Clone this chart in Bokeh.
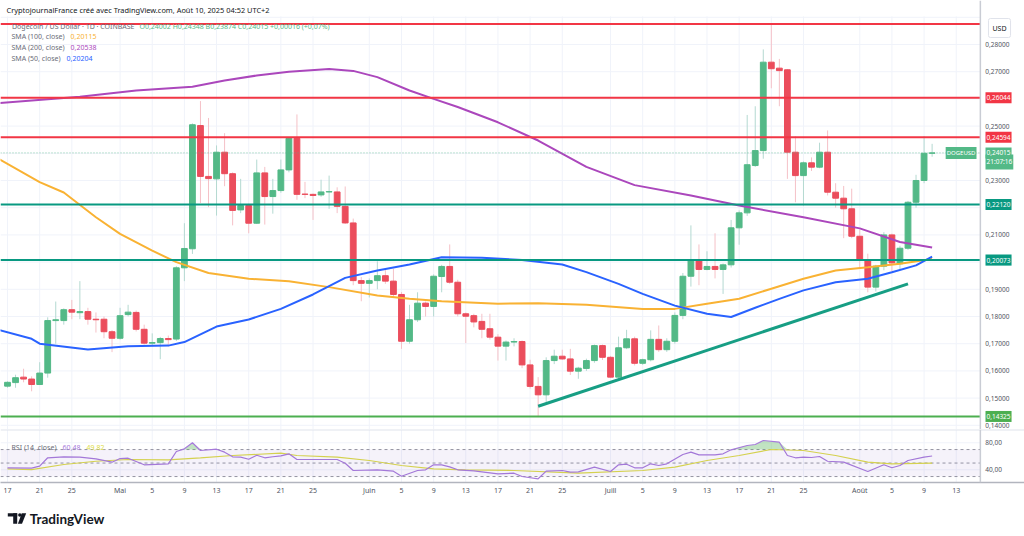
import pandas as pd
from bokeh.plotting import figure
from bokeh.layouts import column
from bokeh.models import (Range1d, FixedTicker, CustomJSTickFormatter, Span, Label,
                          BoxAnnotation, ColumnDataSource)
from bokeh.embed import file_html
from bokeh.resources import INLINE
from bokeh.core.properties import value

# ---------------- data ----------------
dates = pd.date_range("2025-04-17", "2025-08-10", freq="D")
opens = [0.1544, 0.1557, 0.1577, 0.1570, 0.1550, 0.1592, 0.1785, 0.1785, 0.1825, 0.1814, 0.1818, 0.1790, 0.1790, 0.1744,
         0.1720, 0.1807, 0.1815, 0.1753, 0.1702, 0.1704, 0.1719, 0.1717, 0.1979, 0.2049, 0.2502, 0.2315, 0.2306, 0.2404,
         0.2325, 0.2192, 0.2208, 0.2143, 0.2328, 0.2241, 0.2263, 0.2339, 0.2455, 0.2250, 0.2249, 0.2247, 0.2258, 0.2258,
         0.2205, 0.2144, 0.1932,
         0.1922, 0.1932, 0.1950, 0.1930, 0.1881, 0.1709, 0.1788, 0.1849, 0.1837, 0.1947, 0.1984, 0.1926, 0.1810, 0.1803,
         0.1782, 0.1755, 0.1724, 0.1691, 0.1706, 0.1708, 0.1622, 0.1543, 0.1512, 0.1638, 0.1654, 0.1644, 0.1599, 0.1609,
         0.1638, 0.1693,
         0.1650, 0.1577, 0.1685, 0.1718, 0.1628, 0.1641, 0.1716, 0.1678, 0.1709, 0.1804, 0.1948, 0.2009, 0.1973, 0.1984,
         0.1973, 0.1990, 0.2126, 0.2181, 0.2355, 0.2410, 0.2735, 0.2713, 0.2707, 0.2404, 0.2318, 0.2365, 0.2349, 0.2404,
         0.2257, 0.2235, 0.2196,
         0.2095, 0.2006, 0.1908, 0.1985, 0.2100, 0.1994, 0.2051, 0.2220, 0.2300, 0.24002]
highs = [0.1562, 0.1586, 0.1608, 0.1580, 0.1632, 0.1797, 0.1855, 0.1830, 0.1861, 0.1930, 0.1832, 0.1815, 0.1800, 0.1750,
         0.1832, 0.1843, 0.1822, 0.1770, 0.1738, 0.1725, 0.1730, 0.1985, 0.2143, 0.2510, 0.2592, 0.2530, 0.2429, 0.2474,
         0.2330, 0.2306, 0.2215, 0.2377, 0.2350, 0.2306, 0.2377, 0.2458, 0.2543, 0.2295, 0.2252, 0.2303, 0.2318, 0.2275,
         0.2278, 0.2160, 0.1945,
         0.1940, 0.2003, 0.1975, 0.1975, 0.1890, 0.1843, 0.1889, 0.1855, 0.1955, 0.1990, 0.2065, 0.1935, 0.1815, 0.1810,
         0.1810, 0.1810, 0.1735, 0.1712, 0.1720, 0.1712, 0.1641, 0.1577, 0.1650, 0.1678, 0.1678, 0.1681, 0.1615, 0.1645,
         0.1697, 0.1697,
         0.1655, 0.1726, 0.1751, 0.1726, 0.1645, 0.1749, 0.1767, 0.1720, 0.1815, 0.1960, 0.2135, 0.2065, 0.2040, 0.2106,
         0.1995, 0.2155, 0.2190, 0.2541, 0.2573, 0.2782, 0.2872, 0.2747, 0.2710, 0.2463, 0.2370, 0.2385, 0.2439, 0.2484,
         0.2290, 0.2280, 0.2270,
         0.2120, 0.2031, 0.1990, 0.2110, 0.2105, 0.2060, 0.2225, 0.2321, 0.2463, 0.24348]
lows = [0.1538, 0.1538, 0.1558, 0.1525, 0.1548, 0.1575, 0.1700, 0.1770, 0.1790, 0.1790, 0.1770, 0.1741, 0.1720, 0.1669,
        0.1715, 0.1800, 0.1745, 0.1697, 0.1693, 0.1643, 0.1690, 0.1710, 0.1930, 0.2030, 0.2217, 0.2202, 0.2171, 0.2279,
        0.2135, 0.2180, 0.2106, 0.2140, 0.2138, 0.2178, 0.2255, 0.2330, 0.2229, 0.2235, 0.2155, 0.2240, 0.2196, 0.2180,
        0.2140, 0.1915, 0.1856,
        0.1870, 0.1900, 0.1920, 0.1870, 0.1681, 0.1700, 0.1780, 0.1800, 0.1800, 0.1889, 0.1920, 0.1800, 0.1702, 0.1760,
        0.1720, 0.1715, 0.1638, 0.1638, 0.1690, 0.1610, 0.1535, 0.1430, 0.1485, 0.1625, 0.1640, 0.1585, 0.1571, 0.1600,
        0.1630, 0.1640,
        0.1575, 0.1570, 0.1680, 0.1620, 0.1622, 0.1635, 0.1670, 0.1670, 0.1700, 0.1790, 0.1910, 0.1915, 0.1970, 0.1940,
        0.1883, 0.1980, 0.2064, 0.2170, 0.2350, 0.2380, 0.2639, 0.2573, 0.2306, 0.2220, 0.2208, 0.2335, 0.2345, 0.2245,
        0.2200, 0.2088, 0.2088,
        0.1975, 0.1889, 0.1892, 0.1970, 0.1963, 0.1970, 0.2045, 0.2200, 0.2290, 0.23874]
closes = [0.1558, 0.1575, 0.1570, 0.1550, 0.1592, 0.1785, 0.1788, 0.1825, 0.1816, 0.1818, 0.1790, 0.1788, 0.1744, 0.1720,
          0.1803, 0.1816, 0.1753, 0.1702, 0.1704, 0.1719, 0.1715, 0.1979, 0.2050, 0.2505, 0.2315, 0.2307, 0.2404, 0.2325,
          0.2190, 0.2208, 0.2143, 0.2328, 0.2241, 0.2263, 0.2339, 0.2455, 0.2249, 0.2249, 0.2245, 0.2258, 0.2259, 0.2205,
          0.2144, 0.1932, 0.1922,
          0.1932, 0.1950, 0.1930, 0.1881, 0.1709, 0.1788, 0.1849, 0.1837, 0.1948, 0.1984, 0.1926, 0.1810, 0.1801, 0.1780,
          0.1753, 0.1724, 0.1691, 0.1706, 0.1708, 0.1622, 0.1543, 0.1512, 0.1638, 0.1654, 0.1644, 0.1599, 0.1610, 0.1638,
          0.1693, 0.1650,
          0.1577, 0.1685, 0.1718, 0.1628, 0.1641, 0.1716, 0.1678, 0.1709, 0.1804, 0.1948, 0.2009, 0.1973, 0.1984, 0.1973,
          0.1990, 0.2126, 0.2181, 0.2358, 0.2410, 0.2735, 0.2711, 0.2704, 0.2404, 0.2318, 0.2365, 0.2349, 0.2404, 0.2257,
          0.2235, 0.2196, 0.2095,
          0.2006, 0.1908, 0.1985, 0.2100, 0.1997, 0.2051, 0.2220, 0.2300, 0.2400, 0.24015]

sma200_dates = ["2025-04-16", "2025-04-26", "2025-05-03", "2025-05-10", "2025-05-14", "2025-05-18", "2025-05-22",
                "2025-05-27", "2025-05-30", "2025-06-02", "2025-06-06", "2025-06-09", "2025-06-12", "2025-06-17",
                "2025-06-22", "2025-06-28", "2025-07-04", "2025-07-11", "2025-07-17", "2025-07-25", "2025-08-01",
                "2025-08-06", "2025-08-10"]
sma200_vals = [0.2585, 0.2608, 0.2631, 0.2645, 0.2668, 0.2686, 0.2700, 0.2710, 0.2703, 0.2680, 0.2631, 0.2600,
               0.2570, 0.2514, 0.2447, 0.2350, 0.2283, 0.2245, 0.2208, 0.2165, 0.2124, 0.2074, 0.20538]

sma100_dates = ["2025-04-16", "2025-04-21", "2025-04-24", "2025-04-28", "2025-05-01", "2025-05-05", "2025-05-08",
                "2025-05-12", "2025-05-17", "2025-05-22", "2025-05-27", "2025-06-02", "2025-06-06", "2025-06-10",
                "2025-06-17", "2025-06-22", "2025-06-28", "2025-07-05", "2025-07-09", "2025-07-13", "2025-07-17",
                "2025-07-21", "2025-07-25", "2025-07-29", "2025-08-02", "2025-08-06", "2025-08-10"]
sma100_vals = [0.2378, 0.2294, 0.2256, 0.2165, 0.2104, 0.2042, 0.2000, 0.1960, 0.1939, 0.1930, 0.1908, 0.1877,
               0.1865, 0.1856, 0.1847, 0.1849, 0.1843, 0.1828, 0.1828, 0.1847, 0.1865, 0.1902, 0.1939, 0.1969,
               0.1981, 0.1994, 0.20115]

sma50_dates = ["2025-04-16", "2025-04-20", "2025-04-21", "2025-04-27", "2025-05-02", "2025-05-07", "2025-05-09",
               "2025-05-13", "2025-05-17", "2025-05-21", "2025-05-25", "2025-05-29", "2025-06-02", "2025-06-06",
               "2025-06-10", "2025-06-15", "2025-06-20", "2025-06-25", "2025-06-28", "2025-07-02", "2025-07-05",
               "2025-07-09", "2025-07-13", "2025-07-16", "2025-07-19", "2025-07-22", "2025-07-25", "2025-07-29",
               "2025-08-02", "2025-08-05", "2025-08-08", "2025-08-10"]
sma50_vals = [0.1750, 0.1718, 0.1700, 0.1679, 0.1691, 0.1693, 0.1706, 0.1763, 0.1789, 0.1828, 0.1881, 0.1942,
              0.1969, 0.1991, 0.2018, 0.2016, 0.2008, 0.1991, 0.1963, 0.1920, 0.1883, 0.1840, 0.1810, 0.1798,
              0.1832, 0.1865, 0.1896, 0.1926, 0.1939, 0.1963, 0.1988, 0.20204]

trend_dates = ["2025-06-22", "2025-08-07"]
trend_vals = [0.1470, 0.1920]

level_prices = [0.2875, 0.26044, 0.24594, 0.22120, 0.20073, 0.14325]
level_colors = ["#f23645", "#f23645", "#f23645", "#089981", "#089981", "#4caf50"]
tag_prices = [0.26044, 0.24594, 0.22120, 0.20073, 0.14325]
tag_colors = ["#f23645", "#f23645", "#089981", "#089981", "#4caf50"]
last_price = 0.24015
last_time = "21:07:16"

price_ticks = [0.14, 0.15, 0.16, 0.17, 0.18, 0.19, 0.21, 0.23, 0.25, 0.27, 0.28]
grid_prices = [0.14, 0.15, 0.16, 0.17, 0.18, 0.19, 0.20, 0.21, 0.22, 0.23, 0.24, 0.25, 0.26, 0.27, 0.28, 0.29]

date_ticks = ["2025-04-17", "2025-04-21", "2025-04-25", "2025-05-01", "2025-05-05", "2025-05-09", "2025-05-13",
              "2025-05-17", "2025-05-21", "2025-05-25", "2025-06-01", "2025-06-05", "2025-06-09", "2025-06-13",
              "2025-06-17", "2025-06-21", "2025-06-25", "2025-07-01", "2025-07-05", "2025-07-09", "2025-07-13",
              "2025-07-17", "2025-07-21", "2025-07-25", "2025-08-01", "2025-08-05", "2025-08-09", "2025-08-13"]
date_labels = ["17", "21", "25", "Mai", "5", "9", "13", "17", "21", "25", "Juin", "5", "9", "13", "17", "21", "25",
               "Juill", "5", "9", "13", "17", "21", "25", "Août", "5", "9", "13"]

rsi_dates = ["2025-04-17", "2025-04-20", "2025-04-21", "2025-04-22", "2025-04-24", "2025-04-26", "2025-04-28",
             "2025-04-30", "2025-05-01", "2025-05-02", "2025-05-04", "2025-05-07", "2025-05-08", "2025-05-09",
             "2025-05-10", "2025-05-11", "2025-05-13", "2025-05-14", "2025-05-15", "2025-05-16", "2025-05-17",
             "2025-05-18", "2025-05-19", "2025-05-20", "2025-05-21", "2025-05-22", "2025-05-23", "2025-05-28",
             "2025-05-29", "2025-05-30", "2025-06-02", "2025-06-04", "2025-06-05", "2025-06-07", "2025-06-08",
             "2025-06-09", "2025-06-10", "2025-06-11", "2025-06-12", "2025-06-14", "2025-06-17", "2025-06-19",
             "2025-06-20", "2025-06-22", "2025-06-23", "2025-06-25", "2025-06-26", "2025-06-27", "2025-06-29",
             "2025-07-01", "2025-07-02", "2025-07-03", "2025-07-04", "2025-07-05", "2025-07-06", "2025-07-07",
             "2025-07-08", "2025-07-10", "2025-07-11", "2025-07-12", "2025-07-14", "2025-07-15", "2025-07-16",
             "2025-07-18", "2025-07-19", "2025-07-20", "2025-07-22", "2025-07-23", "2025-07-24", "2025-07-25",
             "2025-07-26", "2025-07-27", "2025-07-28", "2025-07-30", "2025-08-02", "2025-08-04", "2025-08-05",
             "2025-08-06", "2025-08-07", "2025-08-09", "2025-08-10"]
rsi_vals = [43.0, 42.4, 45.4, 57.8, 59.3, 58.7, 56.3, 51.3, 56.7, 57.2, 47.4, 48.9, 67.1, 71.1, 80.0, 68.6, 70.5,
            66.1, 59.3, 58.7, 55.7, 61.6, 57.8, 59.3, 60.7, 63.7, 55.3, 55.3, 49.8, 39.0, 40.0, 38.0, 30.5, 39.0,
            40.0, 47.4, 47.4, 44.4, 40.0, 38.5, 34.0, 35.0, 30.1, 26.7, 38.0, 39.0, 36.5, 37.0, 43.9, 37.5, 47.4,
            48.3, 43.0, 43.0, 48.9, 46.4, 48.9, 62.7, 66.1, 62.2, 62.2, 63.7, 69.6, 76.0, 77.5, 83.4, 80.9, 61.2,
            57.8, 58.7, 58.2, 59.7, 52.7, 51.3, 37.5, 47.4, 43.0, 46.4, 53.8, 58.7, 60.48]
rsima_dates = ["2025-04-17", "2025-04-20", "2025-04-24", "2025-04-28", "2025-05-02", "2025-05-07", "2025-05-11",
               "2025-05-15", "2025-05-21", "2025-05-23", "2025-05-28", "2025-06-01", "2025-06-05", "2025-06-09",
               "2025-06-13", "2025-06-19", "2025-06-27", "2025-07-05", "2025-07-09", "2025-07-13", "2025-07-17",
               "2025-07-21", "2025-07-25", "2025-07-29", "2025-08-02", "2025-08-05", "2025-08-10"]
rsima_vals = [41.5, 40.4, 47.9, 52.7, 55.3, 54.8, 57.8, 61.2, 64.6, 61.2, 58.7, 53.8, 46.4, 41.5, 40.0, 39.0, 35.0,
              39.0, 43.9, 53.8, 61.2, 70.1, 68.6, 61.2, 51.3, 48.9, 49.82]
rsi_levels = [70, 50, 30]
rsi_ticks = [80, 40]

# ---------------- styles ----------------
FONT = "Noto Sans"
UP, DOWN = "#53b987", "#eb4d5c"
UP_W, DOWN_W = "#b4d9d1", "#f5c1c7"
GRID = "#f0f3fa"
AXIS = "#c9ccd4"
TXT = "#50535e"
GRAY = "#6a6d78"
RSI_C, RSIMA_C = "#a77bdb", "#dcdc46"

W = 1024
day_ms = 86400000
x0 = pd.Timestamp("2025-04-17") - pd.Timedelta(days=0.871)
x1 = pd.Timestamp("2025-04-17") + pd.Timedelta(days=126.49)
axis_edge = pd.Timestamp("2025-08-16")          # left edge of the price scale column
x_range = Range1d(start=x0, end=x1)
tick_ms = [int(pd.Timestamp(d).value // 10**6) for d in date_ticks]
tick_dt = pd.to_datetime(date_ticks)

# ---------------- main pane ----------------
Y0, Y1 = 0.138456, 0.296176
p = figure(width=W, height=429, x_range=x_range, y_range=Range1d(Y0, Y1),
           x_axis_type="datetime", x_axis_location=None, y_axis_location=None,
           output_backend="svg", toolbar_location=None, min_border=0)
p.outline_line_color = None
p.grid.visible = False

# grid
p.segment(x0=tick_dt, x1=tick_dt, y0=[Y0] * len(tick_dt), y1=[0.2903] * len(tick_dt),
          line_color=GRID, line_width=1)
p.segment(x0=[x0] * len(grid_prices), x1=[axis_edge] * len(grid_prices), y0=grid_prices, y1=grid_prices,
          line_color=GRID, line_width=1)

src = ColumnDataSource(dict(
    date=dates, open=opens, high=highs, low=lows, close=closes,
    color=[UP if c >= o else DOWN for o, c in zip(opens, closes)],
    wick=[UP_W if c >= o else DOWN_W for o, c in zip(opens, closes)],
))
p.segment(x0="date", y0="low", x1="date", y1="high", line_color="wick", line_width=1, source=src)
p.vbar(x="date", width=0.72 * day_ms, top="open", bottom="close", fill_color="color",
       line_color="color", line_width=1, source=src)

p.line(pd.to_datetime(sma200_dates), sma200_vals, line_color="#ab47bc", line_width=2)
p.line(pd.to_datetime(sma100_dates), sma100_vals, line_color="#f9b233", line_width=2)
p.line(pd.to_datetime(sma50_dates), sma50_vals, line_color="#2962ff", line_width=2)
p.line(pd.to_datetime(trend_dates), trend_vals, line_color="#179e84", line_width=3)

p.segment(x0=[x0], x1=[axis_edge], y0=[last_price], y1=[last_price], line_color=UP, line_alpha=0.7,
          line_dash="1 2", line_width=1)
p.segment(x0=[x0] * len(level_prices), x1=[axis_edge] * len(level_prices), y0=level_prices, y1=level_prices,
          line_color=level_colors, line_width=2)

# price scale column
p.add_layout(Span(location=axis_edge, dimension="height", line_color=AXIS, line_width=1.5))
p.text(x=[axis_edge] * len(price_ticks), y=price_ticks,
       text=[f"{v:.5f}".replace(".", ",") for v in price_ticks],
       x_offset=5, text_font=value(FONT), text_font_size="6.5px", text_color=TXT,
       text_align="left", text_baseline="middle")
for tp, tc in zip(tag_prices, tag_colors):
    p.add_layout(Label(x=985, y=tp, x_units="screen", y_units="data", text=f"{tp:.5f}".replace(".", ","),
                       text_font=FONT, text_font_size="6.5px", text_color="white",
                       text_align="left", text_baseline="middle",
                       background_fill_color=tc, padding=(1, 3)))
p.add_layout(Label(x=985, y=last_price, y_offset=-9, x_units="screen", y_units="data",
                   text=last_time, text_font=FONT, text_font_size="6.5px", text_color="white",
                   text_align="left", text_baseline="middle", background_fill_color=UP, padding=(1, 3)))
p.add_layout(Label(x=985, y=last_price, x_units="screen", y_units="data",
                   text=f"{last_price:.5f}".replace(".", ","), text_font=FONT, text_font_size="6.5px",
                   text_color="white", text_align="left", text_baseline="middle",
                   background_fill_color=UP, padding=(1, 3)))
p.add_layout(Label(x=976, y=last_price, x_units="screen", y_units="data",
                   text="DOGEUSD", text_font=FONT, text_font_size="6px", text_color="white",
                   text_align="right", text_baseline="middle", background_fill_color=UP, padding=(1, 2)))
p.add_layout(Label(x=999, y=401.5, x_units="screen", y_units="screen",
                   text="USD", text_font=FONT, text_font_size="7px", text_color="#131722",
                   text_align="center", text_baseline="middle", background_fill_color="white",
                   border_line_color="#e0e3eb", padding=(4, 5), border_radius=2))

# header and legend
p.add_layout(Label(x=6, y=419.5, x_units="screen", y_units="screen",
                   text="CryptojournalFrance créé avec TradingView.com, Août 10, 2025 04:52 UTC+2",
                   text_font=FONT, text_font_size="7.4px", text_color="#131722", text_baseline="middle"))
legend_rows = [
    (11.5, 403, "Dogecoin / US Dollar · 1D · COINBASE", GRAY),
    (139, 403, "O0,24002  H0,24348  B0,23874  C0,24015  +0,00016 (+0,07%)", UP),
    (11, 393, "SMA (100, close)", GRAY),
    (70, 393, "0,20115", "#f9b233"),
    (11, 382, "SMA (200, close)", GRAY),
    (70, 382, "0,20538", "#ab47bc"),
    (11, 371, "SMA (50, close)", GRAY),
    (66, 371, "0,20204", "#2962ff"),
]
for lx, ly, lt, lc in legend_rows:
    p.add_layout(Label(x=lx, y=ly, x_units="screen", y_units="screen", text=lt, text_font=FONT,
                       text_font_size="7px", text_color=lc, text_baseline="middle"))

# ---------------- RSI pane ----------------
R0, R1 = 21.2, 99.7
r = figure(width=W, height=68, x_range=x_range, y_range=Range1d(R0, R1),
           x_axis_type="datetime", y_axis_location=None,
           output_backend="svg", toolbar_location=None,
           min_border_left=0, min_border_right=0, min_border_top=0, min_border_bottom=15)
r.outline_line_color = None
r.grid.visible = False

xa = r.xaxis[0]
xa.ticker = FixedTicker(ticks=tick_ms)
xa.formatter = CustomJSTickFormatter(args=dict(t=tick_ms, l=date_labels),
                                     code="const i = t.indexOf(tick); return i >= 0 ? l[i] : '';")
xa.major_tick_line_color = None
xa.minor_tick_line_color = None
xa.major_tick_out = 0
xa.major_tick_in = 0
xa.minor_tick_out = 0
xa.minor_tick_in = 0
xa.axis_line_color = "#b2b5be"
xa.axis_line_width = 1.5
xa.major_label_text_font_size = "7px"
xa.major_label_text_font = FONT
xa.major_label_text_color = TXT
xa.major_label_standoff = 3

r.segment(x0=tick_dt, x1=tick_dt, y0=[R0] * len(tick_dt), y1=[R1] * len(tick_dt), line_color=GRID, line_width=1)
r.segment(x0=[x0] * len(rsi_ticks), x1=[axis_edge] * len(rsi_ticks), y0=rsi_ticks, y1=rsi_ticks,
          line_color=GRID, line_width=1)
r.add_layout(BoxAnnotation(bottom=30, top=70, right=axis_edge, fill_color="#7e57c2", fill_alpha=0.08,
                           line_color=None))
r.segment(x0=[x0] * len(rsi_levels), x1=[axis_edge] * len(rsi_levels), y0=rsi_levels, y1=rsi_levels,
          line_color="#9598a1", line_dash="3 3", line_width=1)
r.add_layout(Span(location=R1, dimension="width", line_color="#e0e3eb", line_width=2))

rsi_x = pd.to_datetime(rsi_dates)
r.varea(x=rsi_x, y1=[70] * len(rsi_vals), y2=[max(v, 70) for v in rsi_vals],
        fill_color="#4caf50", fill_alpha=0.35)
r.line(pd.to_datetime(rsima_dates), rsima_vals, line_color=RSIMA_C, line_width=1.2)
r.line(rsi_x, rsi_vals, line_color=RSI_C, line_width=1.2)

r.add_layout(Span(location=axis_edge, dimension="height", line_color=AXIS, line_width=1.5))
r.text(x=[axis_edge] * len(rsi_ticks), y=rsi_ticks, text=[f"{v:.2f}".replace(".", ",") for v in rsi_ticks],
       x_offset=5, text_font=value(FONT), text_font_size="6.5px", text_color=TXT,
       text_align="left", text_baseline="middle")

for lx, lt, lc in [(11, "RSI (14, close)", GRAY), (62, "60,48", RSI_C), (86, "49,82", RSIMA_C)]:
    r.add_layout(Label(x=lx, y=34.7, x_units="screen", y_units="screen", text=lt, text_font=FONT,
                       text_font_size="7px", text_color=lc, text_baseline="middle"))

# ---------------- logo strip ----------------
lg = figure(width=W, height=39, x_range=Range1d(0, W), y_range=Range1d(39, 0),
            x_axis_location=None, y_axis_location=None, output_backend="svg",
            toolbar_location=None, min_border=0)
lg.grid.visible = False
lg.outline_line_color = None
lg.quad(left=[7.3, 12.7], right=[16.7, 16.7], top=[15.7, 15.7], bottom=[19.0, 26.3],
        fill_color="#131722", line_color=None)
lg.circle(x=[19.4], y=[17.5], radius=1.8, fill_color="#131722", line_color=None)
lg.patch([21.3, 25.7, 21.5, 17.4], [15.7, 15.7, 26.3, 26.3], fill_color="#131722", line_color=None)
lg.text(x=[29.3], y=[21.0], text=["TradingView"], text_font=value("Lato"), text_font_style="bold",
        text_font_size="13.5px", text_baseline="middle", text_color="#131722")

layout = column(p, r, lg, spacing=0)
open("out.html", "w").write(file_html(layout, INLINE))
